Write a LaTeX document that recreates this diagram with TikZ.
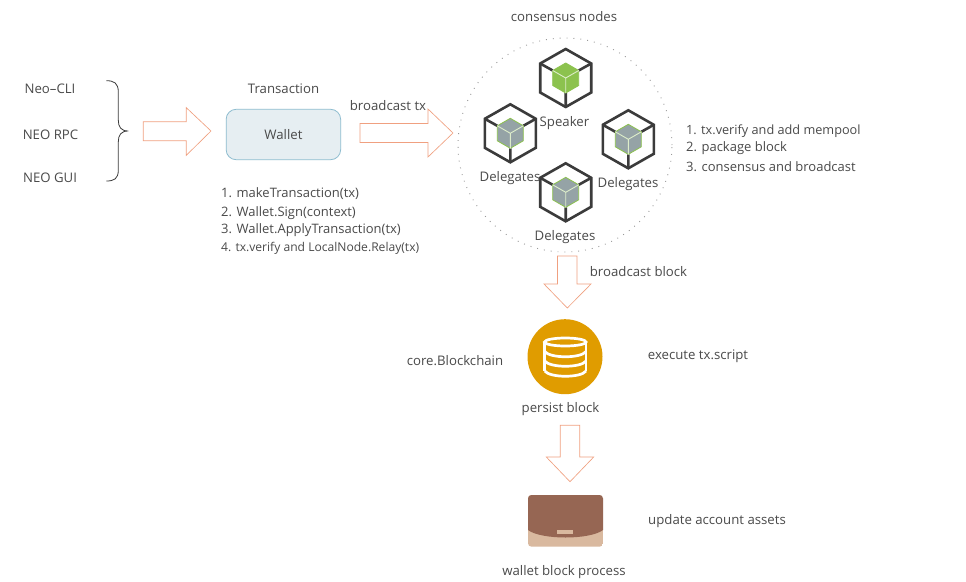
\documentclass[tikz,border=0pt]{standalone}
\usepackage{fontspec}
\setmainfont{Open Sans}
\definecolor{txt}{HTML}{4A4A4A}
\definecolor{arrowc}{HTML}{F0A080}
\definecolor{hexc}{HTML}{3B3B3B}
\definecolor{leaf}{HTML}{8CC24E}
\definecolor{slate}{HTML}{95A3A6}
\definecolor{boxfill}{HTML}{E6EEF2}
\definecolor{boxline}{HTML}{8DBCCF}
\definecolor{gold}{HTML}{E09C00}
\definecolor{leather}{HTML}{966653}
\definecolor{tan}{HTML}{D9B99F}
\tikzset{
  label text/.style={text=txt,font=\fontsize{13.2}{15}\selectfont,inner sep=0pt,anchor=center,yshift=-0.8pt},
  list text/.style={label text,anchor=west,font=\fontsize{13}{15}\selectfont},
  narrow list/.style={list text,font=\fontsize{#1}{15}\selectfont},
  big arrow/.style={draw=arrowc,line width=0.65pt,fill=white,line join=miter},
  pics/cube/.style={code={
    \draw[hexc,line width=2.6pt,line join=miter]
      (0,-29)--(25.5,-14.5)--(25.5,14.5)--(0,29)--(-25.5,14.5)--(-25.5,-14.5)--cycle;
    \draw[hexc,line width=2.6pt] (-25.5,-14.5)--(-13,-7.5) (25.5,-14.5)--(13,-7.5) (0,29)--(0,15);
    \fill[#1] (0,-15)--(13,-7.5)--(13,7.5)--(0,15)--(-13,7.5)--(-13,-7.5)--cycle;
    \draw[leaf,line width=0.8pt] (0,-15)--(13,-7.5)--(13,7.5)--(0,15)--(-13,7.5)--(-13,-7.5)--cycle;
    \draw[white!70!leaf,line width=0.9pt] (-13,-7.5)--(0,0)--(13,-7.5) (0,0)--(0,15);
  }},
}
\begin{document}
\begin{tikzpicture}[x=1pt,y=-1pt]
\useasboundingbox[fill=white] (0,0) rectangle (966,581);
% left labels
\node[label text] (cli) at (50,87.5) {Neo–CLI};
\node[label text] (rpc) at (50.5,134) {NEO RPC};
\node[label text] (gui) at (50,176.5) {NEO GUI};
% brace
\draw[hexc,line width=0.8pt] (106.3,80.7) .. controls (114,80.7) and (118.3,83) .. (118.3,92)
  -- (118.3,120) .. controls (118.3,127) and (121,131) .. (128.3,131)
  .. controls (121,131) and (118.3,135) .. (118.3,142)
  -- (118.3,170) .. controls (118.3,179) and (114,181) .. (106.3,181);
% arrow 1
\draw[big arrow] (143.3,121.7)--(186.3,121.7)--(186.3,107.7)--(211,131)--(186.3,155.3)--(186.3,140.7)--(143.3,140.7)--cycle;
% wallet
\node[label text] (tx) at (283.5,88) {Transaction};
\node[draw=boxline,fill=boxfill,rounded corners=10pt,line width=0.8pt,minimum width=114.5pt,minimum height=50.4pt,inner sep=0pt,text=txt,font=\fontsize{13.2}{15}\selectfont] (wallet) at (283.4,134.5) {Wallet};
\node[list text] (s1) at (221,193) {1. makeTransaction(tx)};
\node[list text] (s2) at (221,212) {2. Wallet.Sign(context)};
\node[list text] (s3) at (221,229.5) {3. Wallet.ApplyTransaction(tx)};
\node[narrow list=12.1] (s4) at (221,247.5) {4. tx.verify and LocalNode.Relay(tx)};
% arrow 2
\node[label text] (btx) at (388,105) {broadcast tx};
\draw[big arrow] (360,123.5)--(428,123.5)--(428,109)--(453,133)--(428,157)--(428,142.5)--(360,142.5)--cycle;
% consensus
\node[label text] (cn) at (564,15.5) {consensus nodes};
\node[circle,draw=gray!80,dash pattern=on 0.9pt off 6pt,line width=0.9pt,minimum size=214pt,inner sep=0pt] (ring) at (565,145) {};
\pic at (565.7,78) {cube=leaf};
\pic at (510.3,133.3) {cube=slate};
\pic at (628.3,139.3) {cube=slate};
\pic at (565.7,192.3) {cube=slate};
\node[label text] (sp) at (564.5,122) {Speaker};
\node[label text] (d1) at (510,177) {Delegates};
\node[label text] (d2) at (628,183) {Delegates};
\node[label text] (d3) at (565,236) {Delegates};
\node[narrow list=12.7] (r1) at (686,130) {1. tx.verify and add mempool};
\node[list text] (r2) at (686,147.5) {2. package block};
\node[list text] (r3) at (686,165.5) {3. consensus and broadcast};
% arrow 3
\draw[big arrow] (557.5,256)--(577,256)--(577,284)--(591,284)--(567.3,308)--(544,284)--(557.5,284)--cycle;
\node[label text] (bb) at (638.5,271) {broadcast block};
% blockchain
\fill[gold] (565,356.7) circle[radius=37.5];
\begin{scope}[white,line width=2.7pt]
  \draw (544.7,342) -- (544.7,371);
  \draw (586,342) -- (586,371);
  \draw (565.3,342) ellipse[x radius=20.7,y radius=4];
  \draw (544.7,351.5) .. controls (550,358.5) and (581,358.5) .. (586,351.5);
  \draw (544.7,361) .. controls (550,368) and (581,368) .. (586,361);
  \draw (544.7,371) .. controls (550,378) and (581,378) .. (586,371);
\end{scope}
\node[label text] (core) at (455,359.5) {core.Blockchain};
\node[label text] (exec) at (698,355.5) {execute tx.script};
\node[label text] (pb) at (560.5,408.5) {persist block};
% arrow 4
\draw[big arrow] (560.3,425.3)--(579.7,425.3)--(579.7,457)--(593.7,457)--(570,481.7)--(546.3,457)--(560.3,457)--cycle;
% wallet icon
\begin{scope}
  \clip[rounded corners=3.5pt] (528,495) rectangle (603,546.7);
  \fill[tan] (528,495) rectangle (603,546.7);
  \fill[leather] (528,530) -- (528,495) -- (603,495) -- (603,530) .. controls (590,540) and (541,540) .. (528,530) -- cycle;
\end{scope}
\fill[tan] (557,530) rectangle (573,534);
\node[label text] (ua) at (717,520.5) {update account assets};
\node[label text] (wb) at (564,571) {wallet block process};
\end{tikzpicture}
\end{document}
